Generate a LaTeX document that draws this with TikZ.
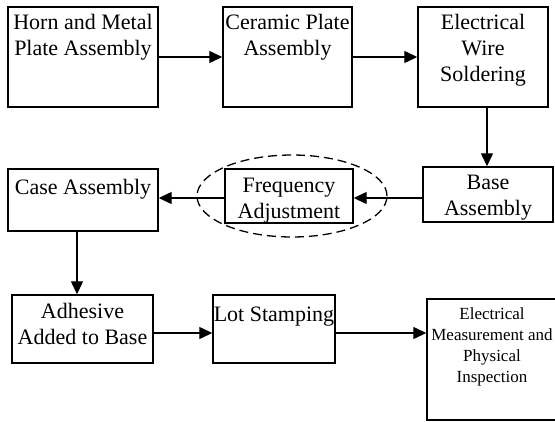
\documentclass[tikz,border=0pt]{standalone}
\usepackage{fontspec}
\setmainfont{Liberation Serif}
\usetikzlibrary{arrows.meta,shapes.geometric}
\tikzset{
  stepbox/.style={draw, line width=1.4pt, inner sep=0pt},
  bigtxt/.style={inner sep=0pt, align=center, anchor=north, font=\fontsize{22}{26}\selectfont},
  smalltxt/.style={inner sep=0pt, align=center, anchor=north, font=\fontsize{17}{21}\selectfont},
  arr/.style={line width=1.3pt, -{Triangle[length=13pt,width=12pt]}},
  ring/.style={draw, dashed, dash pattern=on 9pt off 5pt, line width=1.3pt, ellipse, inner sep=0pt}
}
\begin{document}
\begin{tikzpicture}[x=1pt,y=-1pt]
\useasboundingbox (0,0) rectangle (555,421);
% boxes
\node[stepbox, minimum width=150pt, minimum height=100pt] (b1) at (83,57) {};
\node[stepbox, minimum width=129pt, minimum height=100pt] (b2) at (287.5,57) {};
\node[stepbox, minimum width=130pt, minimum height=100pt] (b3) at (483,57) {};
\node[stepbox, minimum width=130pt, minimum height=55pt] (base) at (488,194.5) {};
\node[stepbox, minimum width=128pt, minimum height=54pt] (freq) at (289,196) {};
\node[stepbox, minimum width=150pt, minimum height=62pt] (case) at (83,200) {};
\node[stepbox, minimum width=141pt, minimum height=68pt] (adh) at (82.5,329) {};
\node[stepbox, minimum width=122pt, minimum height=68pt] (lot) at (274,329) {};
\node[stepbox, minimum width=130pt, minimum height=121pt] (elec) at (492,359.5) {};
\node[ring, minimum width=190pt, minimum height=82pt] (ell) at (292,196) {};
% texts
\node[bigtxt] (t1) at ([yshift=-5pt]b1.north) {\strut Horn and Metal\\Plate Assembly};
\node[bigtxt] (t2) at ([yshift=-5pt]b2.north) {\strut Ceramic Plate\\Assembly};
\node[bigtxt] (t3) at ([yshift=-5pt]b3.north) {\strut Electrical\\Wire\\Soldering};
\node[bigtxt] (tbase) at ([yshift=-5pt]base.north) {\strut Base\\Assembly};
\node[bigtxt] (tfreq) at ([yshift=-5.5pt]freq.north) {\strut Frequency\\Adjustment};
\node[bigtxt] (tcase) at ([yshift=-8pt]case.north) {\strut Case Assembly};
\node[bigtxt] (tadh) at ([yshift=-6pt]adh.north) {\strut Adhesive\\Added to Base};
\node[bigtxt] (tlot) at ([yshift=-8.5pt]lot.north) {\strut Lot Stamping};
\node[smalltxt] (telec) at ([yshift=-6pt]elec.north) {\strut Electrical\\Measurement and\\Physical\\Inspection};
% helper coordinates
\coordinate (ya) at (0,198);
\coordinate (yb) at (0,333);
\coordinate (xa) at (77,0);
\coordinate (xb) at (487,0);
% connectors
\draw[arr] (b1.east) -- (b2.west);
\draw[arr] (b2.east) -- (b3.west);
\draw[arr] (b3.south -| xb) -- (base.north -| xb);
\draw[arr] (base.west |- ya) -- (freq.east |- ya);
\draw[arr] (freq.west |- ya) -- (case.east |- ya);
\draw[arr] (case.south -| xa) -- (adh.north -| xa);
\draw[arr] (adh.east |- yb) -- (lot.west |- yb);
\draw[arr] (lot.east |- yb) -- (elec.west |- yb);
\end{tikzpicture}
\end{document}
